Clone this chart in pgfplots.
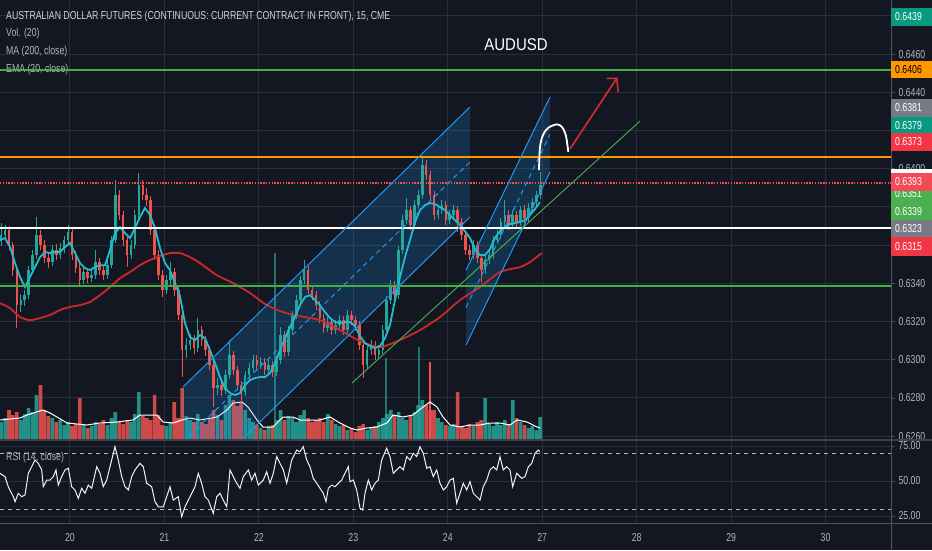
\documentclass[border=0pt]{standalone}
\usepackage{fontspec}
\setmainfont{Liberation Sans}
\newfontfamily\tvfont[FakeStretch=0.76]{Liberation Sans}
\newfontfamily\tvtitle[FakeStretch=0.88]{Liberation Sans}
\usepackage{pgfplots}
\usepackage{pgfplotstable}
\pgfplotsset{compat=1.18}
\definecolor{bgc}{HTML}{131722}
\definecolor{gridc}{HTML}{2A2E3B}
\definecolor{sepc}{HTML}{50535E}
\definecolor{labc}{HTML}{B2B5BE}
\definecolor{txtc}{HTML}{D1D4DC}
\definecolor{upc}{HTML}{26A69A}
\definecolor{dnc}{HTML}{EF5350}
\definecolor{emac}{HTML}{1FBFCF}
\definecolor{mac}{HTML}{CD2828}
\definecolor{chc}{HTML}{2196F3}
\definecolor{orc}{HTML}{FF9800}
\definecolor{grc}{HTML}{4CAF50}
\definecolor{grline}{HTML}{43B047}
\definecolor{tealbox}{HTML}{089981}
\definecolor{graybox}{HTML}{787B86}
\definecolor{redbox}{HTML}{F23645}
\definecolor{arrc}{HTML}{D32F2F}

\pgfplotstableread{
t o hi lo c dir vol
6.5 0.63626 0.63715 0.63595 0.63652 1 180
7.5 0.63652 0.63705 0.63626 0.63679 1 220
8.5 0.63679 0.63700 0.63574 0.63600 0 300
9.5 0.63600 0.63616 0.63438 0.63469 0 250
10.5 0.63469 0.63490 0.63166 0.63286 0 280
11.5 0.63286 0.63344 0.63249 0.63312 1 200
12.5 0.63312 0.63365 0.63281 0.63338 1 260
13.5 0.63338 0.63490 0.63317 0.63469 1 320
14.5 0.63469 0.63574 0.63448 0.63548 1 280
15.5 0.63548 0.63747 0.63527 0.63652 1 450
16.5 0.63652 0.63679 0.63574 0.63600 0 550
17.5 0.63600 0.63626 0.63506 0.63532 0 300
18.5 0.63532 0.63564 0.63480 0.63511 0 240
19.5 0.63511 0.63600 0.63490 0.63574 1 220
20.5 0.63574 0.63605 0.63522 0.63548 0 180
21.5 0.63548 0.63611 0.63527 0.63584 1 200
22.5 0.63584 0.63647 0.63558 0.63626 1 150
23.5 0.63626 0.63705 0.63600 0.63668 1 180
24.5 0.63668 0.63684 0.63522 0.63548 0 140
25.5 0.63548 0.63569 0.63454 0.63480 0 160
26.5 0.63480 0.63501 0.63380 0.63417 0 420
27.5 0.63417 0.63485 0.63396 0.63459 1 150
28.5 0.63459 0.63480 0.63401 0.63427 0 120
29.5 0.63427 0.63469 0.63406 0.63443 1 140
30.5 0.63443 0.63574 0.63422 0.63511 1 180
31.5 0.63511 0.63532 0.63443 0.63469 0 160
32.5 0.63469 0.63495 0.63417 0.63443 0 200
33.5 0.63443 0.63522 0.63422 0.63495 1 150
34.5 0.63495 0.63647 0.63480 0.63626 1 220
35.5 0.63626 0.63941 0.63611 0.63862 1 280
36.5 0.63862 0.63888 0.63731 0.63757 0 180
37.5 0.63757 0.63778 0.63595 0.63626 0 160
38.5 0.63626 0.63647 0.63485 0.63548 0 200
39.5 0.63548 0.63626 0.63527 0.63600 1 180
40.5 0.63600 0.63783 0.63579 0.63757 1 260
41.5 0.63757 0.63977 0.63736 0.63914 1 480
42.5 0.63914 0.63941 0.63836 0.63862 0 240
43.5 0.63862 0.63899 0.63804 0.63836 0 220
44.5 0.63836 0.63857 0.63652 0.63679 0 200
45.5 0.63679 0.63700 0.63522 0.63548 0 450
46.5 0.63548 0.63574 0.63417 0.63443 0 250
47.5 0.63443 0.63469 0.63328 0.63365 0 150
48.5 0.63365 0.63443 0.63344 0.63417 1 140
49.5 0.63417 0.63511 0.63391 0.63459 1 180
50.5 0.63459 0.63480 0.63333 0.63365 0 380
51.5 0.63365 0.63386 0.63207 0.63234 0 220
52.5 0.63234 0.63255 0.62909 0.63050 0 520
53.5 0.63050 0.63113 0.63008 0.63077 1 240
54.5 0.63077 0.63134 0.63050 0.63103 1 200
55.5 0.63103 0.63129 0.63029 0.63061 0 180
56.5 0.63061 0.63218 0.63040 0.63155 1 260
57.5 0.63155 0.63176 0.63071 0.63103 0 180
58.5 0.63103 0.63124 0.63019 0.63050 0 160
59.5 0.63050 0.63071 0.62946 0.62972 0 220
60.5 0.62972 0.62993 0.62752 0.62851 0 300
61.5 0.62851 0.62904 0.62815 0.62867 1 250
62.5 0.62867 0.62893 0.62809 0.62841 0 200
63.5 0.62841 0.62946 0.62820 0.62919 1 350
64.5 0.62919 0.63103 0.62899 0.63024 1 450
65.5 0.63024 0.63045 0.62919 0.62946 0 400
66.5 0.62946 0.62967 0.62841 0.62867 0 340
67.5 0.62867 0.62888 0.62773 0.62830 0 380
68.5 0.62830 0.62940 0.62809 0.62919 1 300
69.5 0.62919 0.62982 0.62893 0.62956 1 220
70.5 0.62956 0.63024 0.62935 0.62998 1 180
71.5 0.62998 0.63024 0.62946 0.62972 0 150
72.5 0.62972 0.63014 0.62951 0.62988 1 120
73.5 0.62988 0.63008 0.62919 0.62946 0 100
74.5 0.62946 0.62998 0.62925 0.62972 1 140
75.5 0.62972 0.62993 0.62909 0.62935 0 150
76.5 0.62935 0.63019 0.62914 0.62998 1 200
77.5 0.62998 0.63171 0.62977 0.63129 1 300
78.5 0.63129 0.63150 0.63014 0.63040 0 200
79.5 0.63040 0.63176 0.63019 0.63155 1 240
80.5 0.63155 0.63255 0.63134 0.63234 1 220
81.5 0.63234 0.63338 0.63213 0.63312 1 180
82.5 0.63312 0.63438 0.63291 0.63417 1 250
83.5 0.63417 0.63522 0.63396 0.63469 1 300
84.5 0.63469 0.63490 0.63344 0.63365 0 220
85.5 0.63365 0.63386 0.63312 0.63338 0 180
86.5 0.63338 0.63359 0.63260 0.63286 0 200
87.5 0.63286 0.63307 0.63192 0.63218 0 220
88.5 0.63218 0.63239 0.63139 0.63166 0 180
89.5 0.63166 0.63223 0.63145 0.63197 1 260
90.5 0.63197 0.63218 0.63129 0.63155 0 200
91.5 0.63155 0.63207 0.63134 0.63181 1 160
92.5 0.63181 0.63234 0.63160 0.63207 1 140
93.5 0.63207 0.63228 0.63129 0.63155 0 150
94.5 0.63155 0.63260 0.63134 0.63234 1 100
95.5 0.63234 0.63255 0.63181 0.63207 0 120
96.5 0.63207 0.63228 0.63155 0.63181 0 80
97.5 0.63181 0.63202 0.63050 0.63077 0 140
98.5 0.63077 0.63097 0.62904 0.62972 0 160
99.5 0.62972 0.63071 0.62951 0.63050 1 100
100.5 0.63050 0.63103 0.63024 0.63077 1 120
101.5 0.63077 0.63097 0.62998 0.63024 0 140
102.5 0.63024 0.63077 0.63003 0.63050 1 180
103.5 0.63050 0.63181 0.63029 0.63155 1 220
104.5 0.63155 0.63333 0.63134 0.63312 1 260
105.5 0.63312 0.63417 0.63291 0.63391 1 300
106.5 0.63391 0.63412 0.63312 0.63338 0 250
107.5 0.63338 0.63595 0.63317 0.63574 1 280
108.5 0.63574 0.63757 0.63553 0.63731 1 220
109.5 0.63731 0.63846 0.63710 0.63783 1 200
110.5 0.63783 0.63804 0.63679 0.63705 0 240
111.5 0.63705 0.63836 0.63684 0.63810 1 280
112.5 0.63810 0.63888 0.63789 0.63862 1 350
113.5 0.63862 0.64061 0.63841 0.64019 1 400
114.5 0.64019 0.64045 0.63941 0.63967 0 350
115.5 0.63967 0.63988 0.63836 0.63862 0 300
116.5 0.63862 0.63883 0.63731 0.63757 0 300
117.5 0.63757 0.63810 0.63736 0.63783 1 220
118.5 0.63783 0.63836 0.63762 0.63810 1 180
119.5 0.63810 0.63831 0.63705 0.63731 0 150
120.5 0.63731 0.63783 0.63710 0.63757 1 140
121.5 0.63757 0.63810 0.63736 0.63783 1 160
122.5 0.63783 0.63804 0.63668 0.63721 0 480
123.5 0.63721 0.63741 0.63626 0.63652 0 140
124.5 0.63652 0.63673 0.63548 0.63574 0 120
125.5 0.63574 0.63600 0.63522 0.63548 0 160
126.5 0.63548 0.63626 0.63527 0.63600 1 140
127.5 0.63600 0.63621 0.63506 0.63532 0 180
128.5 0.63532 0.63553 0.63406 0.63469 0 200
129.5 0.63469 0.63548 0.63448 0.63522 1 420
130.5 0.63522 0.63574 0.63501 0.63548 1 160
131.5 0.63548 0.63647 0.63527 0.63626 1 140
132.5 0.63626 0.63679 0.63605 0.63652 1 180
133.5 0.63652 0.63741 0.63632 0.63721 1 150
134.5 0.63721 0.63836 0.63700 0.63757 1 200
135.5 0.63757 0.63783 0.63679 0.63705 0 160
136.5 0.63705 0.63783 0.63684 0.63757 1 400
137.5 0.63757 0.63778 0.63694 0.63721 0 220
138.5 0.63721 0.63804 0.63700 0.63783 1 180
139.5 0.63783 0.63810 0.63715 0.63741 0 150
140.5 0.63741 0.63820 0.63721 0.63794 1 120
141.5 0.63794 0.63846 0.63773 0.63825 1 140
142.5 0.63825 0.63883 0.63804 0.63862 1 100
143.5 0.63862 0.63982 0.63841 0.63914 1 230
}\candles

\pgfplotstableread{
t vol dir
76.09 1870 1
104.30 820 1
112.68 930 1
115.48 780 0
}\spikes

\pgfplotsset{pane/.style={width=891pt, height=440pt, scale only axis,
  anchor=north west, at={(0pt,550pt)}, xmin=6.214, xmax=232.62}}

\newcommand{\tv}{\tvfont\fontsize{11.5}{12}\selectfont}

\begin{document}
\begin{tikzpicture}[x=1pt,y=1pt]
\fill[bgc] (0,0) rectangle (932,550);

% ---- price pane grid + scale
\begin{axis}[pane, ymin=0.625796, ymax=0.648832,
  axis line style={draw=none}, grid=major, grid style={gridc, line width=1pt},
  xtick={24,48,72,96,120,144,168,192,216}, xticklabels={},
  ytick={0.626,0.628,0.630,0.632,0.634,0.636,0.638,0.640,0.642,0.644,0.646,0.648},
  yticklabels={0.6260,0.6280,0.6300,0.6320,0.6340,0.6360,0.6380,0.6400,0.6420,0.6440,0.6460,0.6480},
  scaled y ticks=false,
  ytick pos=right, yticklabel pos=right, tick align=outside, major tick length=4pt,
  xtick style={draw=none}, ytick style={draw=sepc, line width=0.8pt},
  yticklabel style={font=\tv, text=labc}]
\addplot[draw=none] coordinates {(24,0.63)};
\end{axis}

% ---- volume
\begin{axis}[pane, ymin=0, ymax=4400, axis line style={draw=none}, ticks=none]
\addplot[ybar, bar width=3.6pt, bar shift=0pt, fill=upc, fill opacity=0.85, draw=none,
  restrict expr to domain={\thisrow{dir}}{0.5:1.5}] table[x=t, y=vol]{\candles};
\addplot[ybar, bar width=3.6pt, bar shift=0pt, fill=dnc, fill opacity=0.85, draw=none,
  restrict expr to domain={\thisrow{dir}}{-0.5:0.5}] table[x=t, y=vol]{\candles};
\addplot[ybar, bar width=1.3pt, bar shift=0pt, fill=upc, draw=none,
  restrict expr to domain={\thisrow{dir}}{0.5:1.5}] table[x=t, y=vol]{\spikes};
\addplot[ybar, bar width=1.3pt, bar shift=0pt, fill=dnc, draw=none,
  restrict expr to domain={\thisrow{dir}}{-0.5:0.5}] table[x=t, y=vol]{\spikes};
\addplot[white, line width=1pt] coordinates {
(6.21,200) (11.30,220) (13.08,250) (17.14,300) (18.92,270) (20.70,230) (23.24,170) (28.32,150) (31.62,170) (35.94,180) (40.01,200) (41.79,250) (46.11,250) (47.63,180) (50.17,170) (52.46,200) (54.49,220) (57.03,200) (61.35,230) (63.89,300) (65.42,370) (67.71,380) (69.23,330) (71.52,200) (73.04,130) (75.58,130) (78.12,230) (80.67,230) (82.44,200) (84.98,200) (87.53,200) (90.07,230) (92.61,170) (95.15,120) (96.93,100) (99.47,120) (102.01,130) (104.55,170) (106.08,250) (108.62,230) (111.16,250) (113.70,330) (115.48,380) (117.26,330) (118.78,230) (120.56,150) (123.10,130) (125.64,150) (128.18,150) (130.72,170) (133.26,170) (135.80,150) (137.58,200) (140.12,180) (142.67,130) (143.43,120)};
\end{axis}

% ---- legend texts
\node[anchor=west, text=txtc, font=\tv, inner sep=0pt] at (6,533) {AUSTRALIAN DOLLAR FUTURES (CONTINUOUS: CURRENT CONTRACT IN FRONT), 15, CME};
\node[anchor=west, text=labc, font=\tv, inner sep=0pt] at (6,516) {Vol. (20)};
\node[anchor=west, text=labc, font=\tv, inner sep=0pt] at (6,498) {MA (200, close)};
\node[anchor=west, text=labc, font=\tv, inner sep=0pt] at (6,480) {EMA (20, close)};
\node[text=white, font=\tvtitle\fontsize{17}{18}\selectfont, inner sep=0pt] at (516,505) {AUDUSD};

% ---- price plots
\begin{axis}[pane, ymin=0.625796, ymax=0.648832, axis line style={draw=none}, ticks=none]
% lower support level (drawn first, under the candles)
\addplot[draw=grline, line width=2pt] coordinates {(6.214,0.63388) (232.62,0.63388)};
% channel fills
\addplot[draw=none, fill=chc, fill opacity=0.2] coordinates {(52.71,0.62857) (125.64,0.64323) (125.64,0.63747) (52.71,0.62281) (52.71,0.62857)};
\addplot[draw=none, fill=chc, fill opacity=0.2] coordinates {(124.63,0.63469) (145.97,0.64375) (145.97,0.63982) (124.63,0.63077) (124.63,0.63469)};
% candles: wicks
\addplot[draw=none, mark=none, restrict expr to domain={\thisrow{dir}}{0.5:1.5},
  error bars/.cd, y dir=both, y explicit, error mark=none,
  error bar style={draw=upc, line width=0.9pt}]
  table[x=t, y=c, y error plus expr={\thisrow{hi}-\thisrow{c}}, y error minus expr={\thisrow{c}-\thisrow{lo}}]{\candles};
\addplot[draw=none, mark=none, restrict expr to domain={\thisrow{dir}}{-0.5:0.5},
  error bars/.cd, y dir=both, y explicit, error mark=none,
  error bar style={draw=dnc, line width=0.9pt}]
  table[x=t, y=c, y error plus expr={\thisrow{hi}-\thisrow{c}}, y error minus expr={\thisrow{c}-\thisrow{lo}}]{\candles};
% candles: bodies
\addplot[draw=none, mark=none, restrict expr to domain={\thisrow{dir}}{0.5:1.5},
  error bars/.cd, y dir=both, y explicit, error mark=none,
  error bar style={draw=upc, line width=2.6pt}]
  table[x=t, y=c, y error plus expr={max(\thisrow{o}-\thisrow{c},0)}, y error minus expr={max(\thisrow{c}-\thisrow{o},0)}]{\candles};
\addplot[draw=none, mark=none, restrict expr to domain={\thisrow{dir}}{-0.5:0.5},
  error bars/.cd, y dir=both, y explicit, error mark=none,
  error bar style={draw=dnc, line width=2.6pt}]
  table[x=t, y=c, y error plus expr={max(\thisrow{o}-\thisrow{c},0)}, y error minus expr={max(\thisrow{c}-\thisrow{o},0)}]{\candles};
% MA 200
\addplot[mac, line width=1.8pt, smooth, tension=0.4] coordinates {
(6.21,0.63296) (8.76,0.63270) (11.30,0.63223) (13.84,0.63207) (16.38,0.63218) (18.92,0.63234) (21.46,0.63260) (24.00,0.63276) (26.54,0.63286) (29.08,0.63302) (31.62,0.63338) (34.17,0.63380) (36.71,0.63427) (39.25,0.63459) (41.79,0.63495) (44.33,0.63522) (46.87,0.63543) (49.41,0.63558) (51.95,0.63558) (54.49,0.63537) (57.03,0.63506) (61.28,0.63443) (65.42,0.63401) (69.74,0.63349) (73.98,0.63286) (78.12,0.63249) (82.44,0.63228) (87.53,0.63207) (92.61,0.63155) (97.69,0.63097) (102.77,0.63066) (107.85,0.63103) (112.94,0.63155) (118.02,0.63223) (123.10,0.63312) (128.18,0.63380) (133.26,0.63459) (138.35,0.63485) (140.89,0.63511) (143.86,0.63558)};
% EMA 20
\addplot[emac, line width=1.8pt] coordinates {
(6.21,0.63626) (7.48,0.63637) (8.76,0.63590) (10.03,0.63506) (11.30,0.63433) (12.57,0.63380) (13.84,0.63433) (15.11,0.63485) (16.38,0.63537) (17.65,0.63564) (18.92,0.63558) (20.19,0.63564) (21.46,0.63564) (22.73,0.63590) (24.00,0.63611) (25.27,0.63558) (26.54,0.63506) (27.81,0.63480) (29.08,0.63469) (30.35,0.63485) (31.62,0.63495) (32.90,0.63495) (34.17,0.63574) (35.44,0.63663) (36.71,0.63694) (37.98,0.63663) (39.25,0.63637) (40.52,0.63689) (41.79,0.63747) (43.06,0.63794) (44.33,0.63757) (45.60,0.63689) (46.87,0.63584) (48.14,0.63506) (49.41,0.63469) (50.68,0.63401) (51.95,0.63333) (53.22,0.63192) (54.49,0.63118) (55.76,0.63103) (57.03,0.63129) (58.30,0.63113) (59.58,0.63050) (60.85,0.62982) (62.12,0.62909) (63.39,0.62851) (64.66,0.62825) (65.93,0.62815) (67.20,0.62825) (68.47,0.62867) (69.74,0.62893) (71.01,0.62904) (72.28,0.62909) (73.55,0.62909) (74.82,0.62930) (76.09,0.62982) (77.36,0.63050) (78.63,0.63113) (79.90,0.63171) (81.17,0.63223) (82.44,0.63286) (83.71,0.63328) (84.98,0.63338) (86.26,0.63312) (87.53,0.63286) (88.80,0.63249) (90.07,0.63218) (91.34,0.63197) (92.61,0.63192) (93.88,0.63197) (95.15,0.63197) (96.42,0.63176) (97.69,0.63124) (98.96,0.63087) (100.23,0.63071) (101.50,0.63061) (102.77,0.63071) (104.04,0.63113) (105.31,0.63181) (106.58,0.63312) (107.85,0.63433) (109.12,0.63537) (110.39,0.63626) (111.67,0.63721) (112.94,0.63783) (114.21,0.63810) (115.48,0.63820) (116.75,0.63815) (118.02,0.63799) (119.29,0.63783) (120.56,0.63757) (121.83,0.63731) (123.10,0.63705) (124.37,0.63673) (125.64,0.63637) (126.91,0.63579) (128.18,0.63548) (129.45,0.63548) (130.72,0.63579) (131.99,0.63637) (133.26,0.63673) (134.53,0.63694) (135.80,0.63710) (137.08,0.63715) (138.35,0.63721) (139.62,0.63731) (140.89,0.63757) (142.16,0.63789) (143.43,0.63825)};
% horizontal levels
\addplot[draw=grline, line width=2pt] coordinates {(6.214,0.64516) (232.62,0.64516)};
\addplot[draw=orc, line width=1.8pt] coordinates {(6.214,0.64061) (232.62,0.64061)};
\addplot[draw=dnc, line width=1.2pt, dash pattern=on 1.4pt off 1.4pt] coordinates {(6.214,0.63925) (232.62,0.63925)};
\addplot[draw=white, line width=2.4pt] coordinates {(6.214,0.63689) (232.62,0.63689)};
\addplot[draw=grline, line width=2pt] coordinates {(6.214,0.63388) (232.62,0.63388)};
% channel lines
\addplot[chc, line width=1pt] coordinates {(52.71,0.62857) (125.64,0.64323)};
\addplot[chc, line width=1pt] coordinates {(52.71,0.62281) (125.64,0.63747)};
\addplot[chc, line width=1pt, dash pattern=on 5pt off 4pt] coordinates {(52.71,0.62569) (125.64,0.64035)};
\addplot[chc, line width=1pt] coordinates {(124.63,0.63469) (145.97,0.64375)};
\addplot[chc, line width=1pt] coordinates {(124.63,0.63077) (145.97,0.63982)};
\addplot[chc, line width=1pt, dash pattern=on 5pt off 4pt] coordinates {(124.63,0.63273) (145.97,0.64179)};
% trend line
\addplot[grc, line width=0.9pt] coordinates {(95.66,0.62878) (168.84,0.64249)};
% white arch
\addplot[white, line width=1.8pt, smooth, tension=0.55] coordinates {(143.17,0.63993) (143.43,0.64113) (144.19,0.64176) (145.46,0.64213) (147.67,0.64232) (149.02,0.64218) (150.03,0.64171) (150.62,0.64087)};
% red arrow
\addplot[arrc, line width=1.6pt] coordinates {(151.05,0.64103) (162.92,0.64473)};
\addplot[arrc, line width=1.6pt] coordinates {(160.37,0.64473) (162.92,0.64473) (163.33,0.64400)};
\end{axis}

% ---- RSI pane
\begin{axis}[width=891pt, height=82pt, scale only axis, anchor=north west, at={(0pt,109pt)},
  xmin=6.214, xmax=232.62, ymin=20, ymax=78.57,
  axis line style={draw=none}, grid=major, grid style={gridc, line width=1pt},
  xtick={24,48,72,96,120,144,168,192,216}, xticklabels={20,21,22,23,24,27,28,29,30},
  ytick={25,50,75}, yticklabels={25.00,50.00,75.00},
  ytick pos=right, yticklabel pos=right, xtick pos=bottom, tick align=outside, major tick length=4pt,
  xtick style={draw=none}, ytick style={draw=sepc, line width=0.8pt},
  ticklabel style={font=\tv, text=labc}, xticklabel style={yshift=-3pt}]
\addplot[labc, line width=0.9pt, dash pattern=on 4pt off 4pt] coordinates {(6.214,70) (232.62,70)};
\addplot[labc, line width=0.9pt, dash pattern=on 4pt off 4pt] coordinates {(6.214,30) (232.62,30)};
\addplot[white!90!gray, line width=1pt] coordinates {
(6.21,55.5)(7.48,53.1)(8.32,45.9)(9.59,38.8)(10.03,35.2)(10.86,41.2)(11.73,38.8)(12.57,40.0)(13.41,55.5)(14.27,60.2)(15.11,65.0)(15.95,62.6)(16.81,57.9)(17.22,45.9)(18.08,50.7)(18.92,50.7)(19.76,53.1)(20.44,57.9)(21.03,47.1)(21.89,53.1)(22.73,57.9)(23.57,59.1)(24.43,45.9)(25.27,43.6)(26.11,37.6)(26.97,44.8)(27.81,41.2)(28.65,47.1)(29.52,44.8)(30.79,60.2)(31.62,55.5)(32.46,45.9)(33.33,50.7)(34.17,60.2)(35.44,74.5)(36.27,65.0)(37.14,53.1)(37.98,45.9)(38.82,43.6)(39.68,53.1)(40.52,57.9)(41.79,62.6)(42.63,60.2)(43.49,48.4)(44.76,45.9)(45.60,35.2)(46.44,31.6)(47.71,31.6)(48.57,38.8)(49.41,45.9)(50.25,36.4)(51.52,38.8)(52.38,24.5)(53.22,31.6)(54.49,38.8)(55.76,45.9)(56.60,55.5)(57.46,48.4)(58.30,38.8)(59.14,36.4)(60.41,26.9)(61.28,38.8)(62.12,41.2)(62.95,36.4)(63.82,31.6)(64.66,57.9)(65.49,53.1)(66.36,48.4)(67.20,44.8)(68.04,53.1)(69.31,57.9)(70.17,50.7)(71.01,55.5)(71.85,47.1)(73.12,50.7)(73.98,56.6)(74.82,48.4)(75.66,55.5)(76.52,67.4)(77.36,62.6)(78.20,57.9)(79.07,48.4)(80.34,65.0)(81.61,72.1)(82.44,70.9)(83.28,74.5)(84.15,65.0)(84.98,60.2)(85.82,51.9)(86.69,48.4)(87.53,44.8)(88.37,41.2)(89.05,35.2)(89.64,44.8)(90.50,47.1)(91.34,45.9)(92.18,48.4)(93.04,50.7)(93.88,55.5)(94.72,60.2)(95.15,49.5)(95.99,50.7)(96.85,43.6)(97.69,30.5)(98.38,29.3)(98.96,41.2)(99.80,50.7)(100.66,43.6)(101.50,48.4)(102.34,50.7)(103.20,65.0)(104.47,73.4)(105.31,67.4)(106.15,55.5)(107.02,57.9)(107.85,60.2)(108.69,57.9)(109.56,67.4)(110.39,65.0)(111.23,69.8)(112.10,67.4)(112.94,74.5)(113.77,69.8)(114.64,59.1)(115.48,60.2)(116.32,53.1)(117.18,57.9)(118.02,48.4)(118.86,43.6)(119.72,45.9)(120.56,50.7)(121.40,51.9)(122.26,34.1)(123.10,41.2)(123.94,48.4)(124.80,43.6)(125.64,49.5)(126.48,41.2)(127.34,38.8)(128.18,36.4)(129.02,45.9)(129.89,50.7)(130.72,57.9)(131.56,60.2)(132.43,57.9)(133.26,67.4)(134.10,57.9)(134.97,60.2)(135.80,57.9)(136.49,45.9)(137.51,55.5)(138.78,51.9)(139.62,53.1)(140.46,60.2)(141.32,62.6)(142.16,69.8)(143.00,72.1)(143.43,70.9)};
\end{axis}
\node[anchor=west, text=labc, font=\tv, inner sep=0pt] at (6,92) {RSI (14, close)};

% ---- separators
\draw[sepc!70!bgc, line width=2pt] (0,110.5) -- (932,110.5);
\draw[sepc, line width=1pt] (0,27) -- (932,27);
\draw[sepc, line width=1pt] (891.5,0) -- (891.5,550);

% ---- price scale labels
\tikzset{plab/.style={anchor=west, font=\tv, inner sep=0pt}}
\fill[tealbox] (891,542) rectangle (932,524); \node[plab, text=white] at (895,533) {0.6439};
\fill[orc] (891,489) rectangle (932,472); \node[plab, text=black] at (895,480.5) {0.6406};
\fill[graybox] (891,451) rectangle (932,433); \node[plab, text=white] at (895,442) {0.6381};
\fill[tealbox] (891,433) rectangle (932,416); \node[plab, text=white] at (895,424.5) {0.6379};
\fill[redbox] (891,417) rectangle (932,399); \node[plab, text=white] at (895,408) {0.6373};
\fill[white] (891,381) rectangle (932,363);
\fill[grc] (891,365) rectangle (932,347); \node[plab, text=white] at (895,356) {0.6351};
\fill[redbox!90!white] (891,377) rectangle (932,359); \node[plab, text=white] at (895,368) {0.6393};
\fill[grc] (891,347) rectangle (932,329); \node[plab, text=white] at (895,338) {0.6339};
\fill[graybox] (891,330) rectangle (932,313); \node[plab, text=white] at (895,321.5) {0.6323};
\fill[redbox] (891,313) rectangle (932,294); \node[plab, text=white] at (895,303.5) {0.6315};

\pgfresetboundingbox
\path[use as bounding box] (0,0) rectangle (932,550);
\end{tikzpicture}
\end{document}
